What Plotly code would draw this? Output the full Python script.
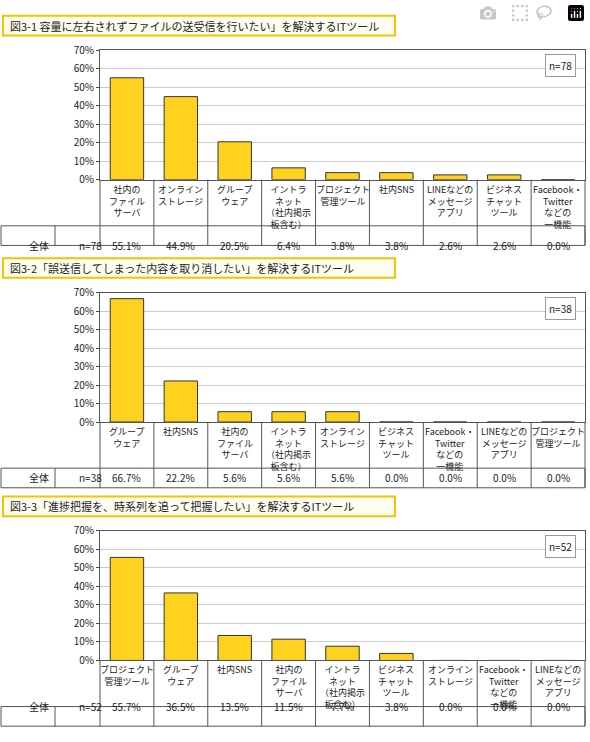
import plotly.graph_objects as go

W, H = 590, 742
titles = ["図3-1 容量に左右されずファイルの送受信を行いたい」を解決するITツール",
          "図3-2「誤送信してしまった内容を取り消したい」を解決するITツール",
          "図3-3「進捗把握を、時系列を追って把握したい」を解決するITツール"]
n_labels = ["n=78", "n=38", "n=52"]
cats1 = ["社内の<br>ファイル<br>サーバ", "オンライン<br>ストレージ", "グループ<br>ウェア", "イントラ<br>ネット<br>（社内掲示<br>板含む）",
         "プロジェクト<br>管理ツール", "社内SNS", "LINEなどの<br>メッセージ<br>アプリ", "ビジネス<br>チャット<br>ツール", "Facebook・<br>Twitter<br>などの<br>一機能"]
vals1 = [55.1, 44.9, 20.5, 6.4, 3.8, 3.8, 2.6, 2.6, 0.0]
cats2 = ["グループ<br>ウェア", "社内SNS", "社内の<br>ファイル<br>サーバ", "イントラ<br>ネット<br>（社内掲示<br>板含む）", "オンライン<br>ストレージ",
         "ビジネス<br>チャット<br>ツール", "Facebook・<br>Twitter<br>などの<br>一機能", "LINEなどの<br>メッセージ<br>アプリ", "プロジェクト<br>管理ツール"]
vals2 = [66.7, 22.2, 5.6, 5.6, 5.6, 0.0, 0.0, 0.0, 0.0]
cats3 = ["プロジェクト<br>管理ツール", "グループ<br>ウェア", "社内SNS", "社内の<br>ファイル<br>サーバ", "イントラ<br>ネット<br>（社内掲示<br>板含む）",
         "ビジネス<br>チャット<br>ツール", "オンライン<br>ストレージ", "Facebook・<br>Twitter<br>などの<br>一機能", "LINEなどの<br>メッセージ<br>アプリ"]
vals3 = [55.7, 36.5, 13.5, 11.5, 7.7, 3.8, 0.0, 0.0, 0.0]
yticks = [0, 10, 20, 30, 40, 50, 60, 70]
ytick_text = [f"{v}%" for v in yticks]

panels = [(cats1, vals1, 8), (cats2, vals2, 255), (cats3, vals3, 498)]
FONT = "Noto Sans CJK JP"
px = lambda x: x / W
py = lambda y: 1 - y / H
X0, X1 = 100, 585

fig = go.Figure()
shapes, anns = [], []
layout = dict(width=W, height=H, margin=dict(l=0, r=0, t=0, b=0), paper_bgcolor="white",
              plot_bgcolor="white", showlegend=False, font=dict(family=FONT, size=10, color="#222"))
for i, (cats, vals, top) in enumerate(panels):
    k = "" if i == 0 else str(i + 1)
    xa, ya = "x" + k, "y" + k
    ptop, pbot, lbot, dbot = top + 35, top + 167, top + 214, top + 234
    fig.add_trace(go.Bar(x=list(range(9)), y=vals, xaxis=xa, yaxis=ya, width=0.62,
                         marker=dict(color="#FFD21F", line=dict(color="#333", width=1)), hoverinfo="skip"))
    layout["xaxis" + k] = dict(domain=[px(X0), px(X1)], range=[-0.5, 8.5], showticklabels=False, showgrid=False,
                               zeroline=False, anchor=ya, showline=True, mirror=True, linecolor="#555", fixedrange=True)
    layout["yaxis" + k] = dict(domain=[py(pbot), py(ptop)], range=[0, 70], tickvals=yticks, ticktext=ytick_text,
                               showgrid=True, gridcolor="#ccc", gridwidth=1, zeroline=False, anchor=xa,
                               showline=True, mirror=True, linecolor="#555", ticks="outside", ticklen=3,
                               tickfont=dict(size=10), fixedrange=True)
    shapes.append(dict(type="rect", xref="paper", yref="paper", x0=px(3), x1=px(395), y0=py(top + 20), y1=py(top),
                       line=dict(color="#F5C400", width=2), fillcolor="#FFFDF0", layer="below"))
    anns.append(dict(text=titles[i], xref="paper", yref="paper", x=px(8), y=py(top + 10), xanchor="left",
                     yanchor="middle", showarrow=False, font=dict(size=11, color="#222")))
    anns.append(dict(text=n_labels[i], xref="paper", yref="paper", x=px(576), y=py(ptop + 16), xanchor="right",
                     yanchor="middle", showarrow=False, bordercolor="#999", borderwidth=1, borderpad=3,
                     bgcolor="white", font=dict(size=10)))
    shapes.append(dict(type="line", xref="paper", yref="paper", x0=px(X0), x1=px(X0), y0=py(dbot), y1=py(pbot), line=dict(color="#555", width=1)))
    shapes.append(dict(type="line", xref="paper", yref="paper", x0=px(X1), x1=px(X1), y0=py(dbot), y1=py(pbot), line=dict(color="#555", width=1)))
    shapes.append(dict(type="rect", xref="paper", yref="paper", x0=px(1), x1=px(X1), y0=py(dbot), y1=py(lbot), line=dict(color="#555", width=1)))
    shapes.append(dict(type="line", xref="paper", yref="paper", x0=px(55), x1=px(55), y0=py(dbot), y1=py(lbot), line=dict(color="#555", width=1)))
    for b in range(1, 9):
        shapes.append(dict(type="line", xref=xa, yref="paper", x0=b - 0.5, x1=b - 0.5, y0=py(dbot), y1=py(pbot), line=dict(color="#555", width=1)))
    anns.append(dict(text="全体", xref="paper", yref="paper", x=px(27), y=py((lbot + dbot) / 2), showarrow=False, font=dict(size=10)))
    anns.append(dict(text=n_labels[i], xref="paper", yref="paper", x=px(77), y=py((lbot + dbot) / 2), showarrow=False, font=dict(size=10)))
    for j, (c, v) in enumerate(zip(cats, vals)):
        anns.append(dict(text=c, xref=xa, yref="paper", x=j, y=py(pbot + 1), yanchor="top", showarrow=False,
                         font=dict(size=9), align="center"))
        anns.append(dict(text=f"{v:.1f}%", xref=xa, yref="paper", x=j, y=py((lbot + dbot) / 2), showarrow=False, font=dict(size=10)))

layout["shapes"] = shapes
layout["annotations"] = anns
fig.update_layout(**layout)
fig.write_html("out.html", config={"responsive": False},
               post_script="document.body.style.margin='0';document.body.style.overflow='hidden';")
